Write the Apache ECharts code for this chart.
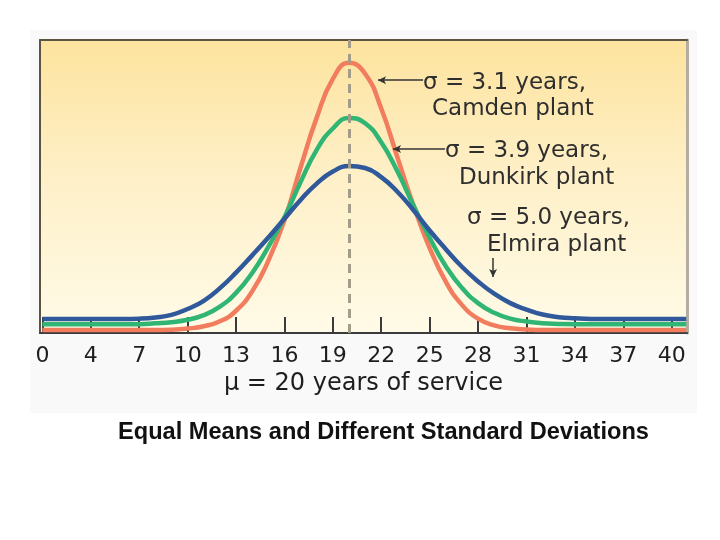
<!DOCTYPE html>
<html>
<head>
<meta charset="utf-8">
<script src="https://cdn.jsdelivr.net/npm/echarts@6/dist/echarts.min.js"></script>
<style>
  html, body { margin:0; padding:0; background:#ffffff; }
  #wrap { position:relative; width:720px; height:540px; }
  #panel { position:absolute; left:30px; top:30px; width:667px; height:383px; background:#f9f9f9; }
  #chart { position:absolute; left:0; top:0; width:720px; height:540px; }
</style>
</head>
<body>
<div id="wrap"><div id="panel"></div><div id="chart"></div></div>
<script>
// Years of service (x) and relative height of each curve (0 = axis, 100 = top of frame)
const years = [1,2,3,4,5,6,7,8,9,10,11,12,13,14,15,16,17,18,19,20,21,22,23,24,25,26,27,28,29,30,31,32,33,34,35,36,37,38,39,40,40.9];
const camden = [1.0,1.0,1.0,1.0,1.0,1.0,1.0,1.0,1.1,1.5,2.3,4.0,7.6,14.2,24.6,38.5,56.5,73.5,86.7,92.2,88.5,76.6,60.0,43.5,29.0,17.5,9.6,4.9,2.6,1.6,1.2,1.0,1.0,1.0,1.0,1.0,1.0,1.0,1.0,1.0,1.0];
const dunkirk = [3.0,3.0,3.0,3.0,3.0,3.0,3.0,3.3,3.7,4.5,6.1,9.0,13.7,20.5,29.4,39.5,51.5,62.5,69.8,73.4,71.6,65.1,55.2,43.5,32.5,22.8,15.4,10.2,6.9,4.9,3.9,3.3,3.1,3.0,3.0,3.0,3.0,3.0,3.0,3.0,3.0];
const elmira = [4.8,4.8,4.8,4.8,4.8,4.8,4.9,5.3,6.2,8.2,11.0,15.3,20.6,26.5,32.6,39.0,45.4,51.0,55.1,57.0,56.3,53.2,48.2,41.9,35.0,28.6,22.6,17.6,13.4,10.2,8.0,6.3,5.4,5.0,4.8,4.8,4.8,4.8,4.8,4.8,4.8];
const tickValues = [1,4,7,10,13,16,19,22,25,28,31,34,37,40];
const tickLabels = ['0','4','7','10','13','16','19','22','25','28','31','34','37','40'];
const meanYears = 20;
const axisName = 'μ = 20 years of service';
const titleText = 'Equal Means and Different Standard Deviations';
const annotations = [
  ['σ = 3.1 years,', 423, 86], ['Camden plant', 432, 112],
  ['σ = 3.9 years,', 445, 154], ['Dunkirk plant', 459, 181],
  ['σ = 5.0 years,', 467, 221], ['Elmira plant', 487, 248]
];

const chart = echarts.init(document.getElementById('chart'));
const pair = (arr) => years.map((x, i) => [x, arr[i]]);
const lineSeries = (name, arr, color, extra) => Object.assign({
  name: name, type: 'line', data: pair(arr), smooth: true, showSymbol: false,
  lineStyle: { color: color, width: 4.5 }, itemStyle: { color: color },
  silent: true, animation: false
}, extra || {});

const arrowStyle = { color: '#333333', width: 1.5, type: 'solid' };

chart.setOption({
  animation: false,
  backgroundColor: 'transparent',
  title: {
    text: titleText, left: 113, top: 415,
    textStyle: { fontFamily: 'Liberation Sans', fontWeight: 'bold', fontSize: 23.6, color: '#111111' }
  },
  grid: {
    left: 40, top: 40, width: 647, height: 293, show: true, borderWidth: 0,
    backgroundColor: { type: 'linear', x: 0, y: 0, x2: 0, y2: 1,
      colorStops: [ { offset: 0, color: '#fde39e' }, { offset: 0.45, color: '#feefc6' }, { offset: 1, color: '#fffbe8' } ] }
  },
  xAxis: [
    {
      type: 'value', min: 0.85, max: 40.95, position: 'bottom',
      axisLine: { show: true, onZero: false, lineStyle: { color: '#3a3a3a', width: 2 } },
      axisTick: { show: true, inside: true, length: 16, customValues: tickValues, lineStyle: { color: '#3a3a3a', width: 2 } },
      axisLabel: { customValues: tickValues, formatter: (v) => { const i = tickValues.indexOf(v); return i >= 0 ? tickLabels[i] : ''; },
        fontFamily: 'DejaVu Sans', fontSize: 22, color: '#1e1e1e', margin: 12 },
      splitLine: { show: false },
      name: axisName, nameLocation: 'middle', nameGap: 36,
      nameTextStyle: { fontFamily: 'DejaVu Sans', fontSize: 24, color: '#1e1e1e' }
    },
    {
      type: 'value', min: 0.85, max: 40.95, position: 'top',
      axisLine: { show: true, onZero: false, lineStyle: { color: '#5b5443', width: 2 } },
      axisTick: { show: false }, axisLabel: { show: false }, splitLine: { show: false }
    }
  ],
  yAxis: [
    {
      type: 'value', min: 0, max: 100, position: 'left',
      axisLine: { show: true, onZero: false, lineStyle: { color: '#5b5443', width: 2 } },
      axisTick: { show: false }, axisLabel: { show: false }, splitLine: { show: false }
    },
    {
      type: 'value', min: 0, max: 100, position: 'right',
      axisLine: { show: true, onZero: false, lineStyle: { color: '#b3ada1', width: 3 } },
      axisTick: { show: false }, axisLabel: { show: false }, splitLine: { show: false }
    }
  ],
  series: [
    lineSeries('Camden', camden, '#f27c5e', {
      markLine: { silent: true, symbol: ['none', 'none'], label: { show: false },
        lineStyle: { color: '#a39c88', width: 3, type: [9, 6] },
        data: [ { xAxis: meanYears } ] }
    }),
    lineSeries('Dunkirk', dunkirk, '#30b574'),
    lineSeries('Elmira', elmira, '#30599b', {
      markLine: { silent: true, symbol: ['none', 'arrow'], symbolSize: [6, 8], label: { show: false },
        lineStyle: arrowStyle,
        data: [
          [ { coord: [24.59, 86.3] }, { coord: [21.8, 86.3] } ],
          [ { coord: [25.95, 62.8] }, { coord: [22.73, 62.8] } ],
          [ { coord: [28.93, 25.6] }, { coord: [28.93, 19.1] } ]
        ] }
    })
  ],
  graphic: annotations.map((a) => ({
    type: 'text', left: a[1], top: a[2] - 14, silent: true,
    style: { text: a[0], fontFamily: 'DejaVu Sans', fontSize: 23, fill: '#2e2e2e' }
  }))
});
</script>
</body>
</html>
